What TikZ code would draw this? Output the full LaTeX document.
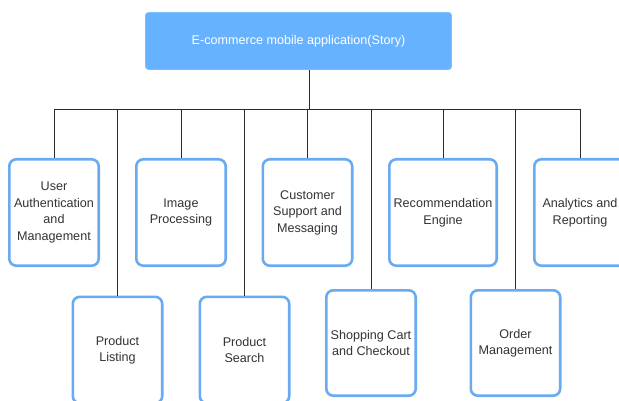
\documentclass[tikz,border=0pt]{standalone}
\usepackage{fontspec}
\setmainfont{Liberation Sans}
\definecolor{boxblue}{HTML}{6AAAF0}
\definecolor{headblue}{HTML}{66B2FF}
\definecolor{textgray}{HTML}{333333}
\definecolor{wiregray}{HTML}{2B2B2B}
\begin{document}
\begin{tikzpicture}[x=1pt,y=-1pt,
  head/.style={fill=headblue, draw=headblue!85!white, line width=0.8pt, rounded corners=3pt,
    minimum width=306pt, minimum height=57pt, inner sep=0pt, text=white,
    font=\fontsize{12.6}{16.5}\selectfont},
  leaf/.style={draw=boxblue, line width=2.6pt, rounded corners=7pt, fill=white,
    align=center, inner sep=0pt, text=textgray, minimum width=89.4pt, minimum height=106.4pt,
    font=\fontsize{12.6}{16.5}\selectfont},
  wire/.style={draw=wiregray, line width=0.9pt}]
\useasboundingbox (0,0) rectangle (619,401);

% root of the tree
\node[head] (root) at (298.5,41) {E-commerce mobile application(Story)};
\coordinate (bus) at (309,109);

% upper row of modules
\node[leaf] (user) at (54,212.5) {User\\Authentication\\and\\Management};
\node[leaf] (image) at (181,212.5) {Image\\Processing};
\node[leaf] (support) at (307.5,212.5) {Customer\\Support and\\Messaging};
\node[leaf, minimum width=107.4pt] (recommend) at (443,212.5) {Recommendation\\Engine};
\node[leaf, minimum width=91.4pt] (analytics) at (580,212.5) {Analytics and\\Reporting};

% lower row of modules
\node[leaf] (listing) at (117.5,350) {Product\\Listing};
\node[leaf] (search) at (244.5,350) {Product\\Search};
\node[leaf, minimum height=105.4pt] (cart) at (371,343) {Shopping Cart\\and Checkout};
\node[leaf, minimum height=105.4pt] (order) at (515.5,343) {Order\\Management};

% connectors
\draw[wire] (root.south -| bus) -- (bus);
\draw[wire] (user.north |- bus) -- (analytics.north |- bus);
\foreach \n in {user,image,support,recommend,analytics,listing,search,cart,order}
  \draw[wire] (\n.north |- bus) -- (\n.north);
\end{tikzpicture}
\end{document}
